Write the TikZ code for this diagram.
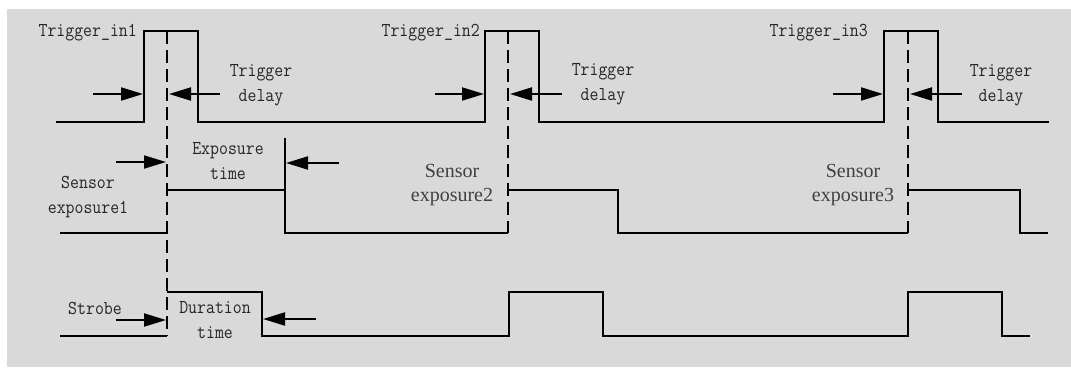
\documentclass[tikz,border=0pt]{standalone}
\usepackage{fontspec}
\setmainfont{Liberation Serif}
\setmonofont{Latin Modern Mono}[FakeStretch=0.88]
\usetikzlibrary{arrows.meta}
\definecolor{fondo}{RGB}{217,217,217}
\tikzset{
    senal/.style={line width=2.2pt, line join=miter},
    guia/.style={line width=2.2pt, dash pattern=on 13pt off 6pt},
    flecha/.style={-{Triangle[length=22pt,width=13pt]}, line width=2pt},
    txt/.style={font=\ttfamily\fontsize{19.7}{24.5}\selectfont, text=black!85, align=center, inner sep=0pt},
    txtser/.style={font=\rmfamily\fontsize{20}{24}\selectfont, text=black!75, align=center, inner sep=0pt}
}
\begin{document}
\begin{tikzpicture}[x=1pt, y=-1pt]
    \useasboundingbox (0,0) rectangle (1071,367);
    \fill[fondo] (7,9) rectangle (1071,367);

    % Señal de disparo con sus tres pulsos.
    \draw[senal] (56,122) -| (144,31) -| (198,122) -| (485,31) -| (539,122)
        -| (884,31) -| (938,122) -- (1049,122);

    % Exposición del sensor.
    \draw[senal] (60,233) -- (167,233);
    \draw[senal] (167,190) -- (285,190);
    \draw[senal] (285,138) -- (285,233) -- (508,233);
    \draw[senal] (508,190) -| (618,233) -- (908,233);
    \draw[senal] (908,190) -| (1020,233) -- (1048,233);

    % Salida strobe.
    \draw[senal] (60,336) -- (167,336);
    \draw[senal] (167,292) -| (262,336) -| (509,292) -| (603,336) -| (908,292)
        -| (1002,336) -- (1030,336);

    % Líneas de referencia a trazos.
    \draw[guia] (167,31) -- (167,336);
    \foreach \x in {508,908} {
        \draw[guia] (\x,31) -- (\x,233);
    }

    % Flechas de retardo del disparo.
    \foreach \ini/\fin in {93/143, 220/169, 435/484, 562/510, 833/883, 962/910} {
        \draw[flecha] (\ini,94) -- (\fin,94);
    }
    \draw[flecha] (116,162) -- (166,162);
    \draw[flecha] (339,163) -- (286,163);
    \draw[flecha] (116,320) -- (166,320);
    \draw[flecha] (316,319) -- (263,319);

    \node[txt, anchor=east] (trig1) at (137,33) {Trigger\_in1};
    \node[txt, anchor=east] (trig2) at (480,33) {Trigger\_in2};
    \node[txt, anchor=east] (trig3) at (868,33) {Trigger\_in3};
    \node[txt] (retardo1) at (261,85) {Trigger\\delay};
    \node[txt] (retardo2) at (603,84) {Trigger\\delay};
    \node[txt] (retardo3) at (1001,85) {Trigger\\delay};
    \node[txt] (expo) at (228,161) {Exposure\\time};
    \node[txt] (sens1) at (88,197) {Sensor\\exposure1};
    \node[txtser] (sens2) at (452,185) {Sensor\\exposure2};
    \node[txtser] (sens3) at (853,185) {Sensor\\exposure3};
    \node[txt] (strobe) at (95,308) {Strobe};
    \node[txt] (durac) at (215,320) {Duration\\time};
\end{tikzpicture}
\end{document}
